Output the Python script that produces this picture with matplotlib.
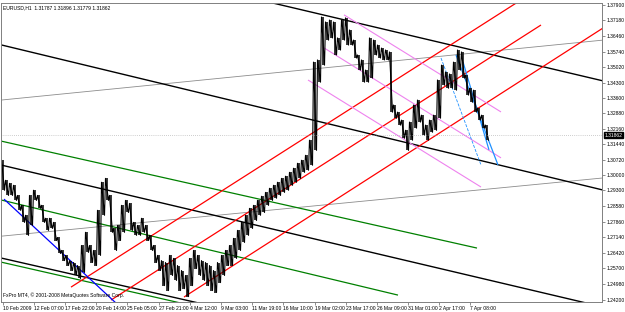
import numpy as np
import matplotlib.pyplot as plt

# EURUSD H1, high / low per 4-bar block (x = bar index)
highs = [1.3070, 1.2977, 1.2963, 1.2954, 1.2907, 1.2861, 1.2815, 1.2907, 1.2931, 1.2907,
         1.2861, 1.2801, 1.2801, 1.2782, 1.2712, 1.2652, 1.2629, 1.2605, 1.2596, 1.2582,
         1.2675, 1.2736, 1.2675, 1.2652, 1.2838, 1.2968, 1.2986, 1.2907, 1.2754, 1.2768,
         1.2861, 1.2884, 1.2870, 1.2782, 1.2768, 1.2801, 1.2768, 1.2722, 1.2675, 1.2629,
         1.2605, 1.2596, 1.2629, 1.2615, 1.2582, 1.2559, 1.2536, 1.2615, 1.2652, 1.2629,
         1.2605, 1.2596, 1.2582, 1.2559, 1.2596, 1.2629, 1.2652, 1.2675, 1.2708, 1.2745,
         1.2782, 1.2815, 1.2847, 1.2861, 1.2884, 1.2903, 1.2921, 1.2940, 1.2954, 1.2968,
         1.2986, 1.2996, 1.3014, 1.3033, 1.3056, 1.3070, 1.3093, 1.3163, 1.3525, 1.3535,
         1.3734, 1.3711, 1.3720, 1.3711, 1.3637, 1.3720, 1.3730, 1.3674, 1.3627, 1.3558,
         1.3535, 1.3488, 1.3637, 1.3627, 1.3604, 1.3590, 1.3581, 1.3572, 1.3326, 1.3293,
         1.3256, 1.3209, 1.3247, 1.3326, 1.3349, 1.3279, 1.3233, 1.3256, 1.3279, 1.3442,
         1.3511, 1.3479, 1.3470, 1.3525, 1.3581, 1.3572, 1.3465, 1.3404, 1.3395, 1.3312,
         1.3279, 1.3233]
lows = [1.2931, 1.2907, 1.2907, 1.2884, 1.2838, 1.2782, 1.2722, 1.2768, 1.2884, 1.2847,
        1.2782, 1.2745, 1.2754, 1.2698, 1.2638, 1.2605, 1.2582, 1.2559, 1.2540, 1.2522,
        1.2550, 1.2643, 1.2596, 1.2582, 1.2629, 1.2815, 1.2884, 1.2736, 1.2652, 1.2698,
        1.2736, 1.2828, 1.2745, 1.2722, 1.2722, 1.2736, 1.2698, 1.2652, 1.2596, 1.2559,
        1.2489, 1.2466, 1.2536, 1.2513, 1.2466, 1.2475, 1.2438, 1.2489, 1.2568, 1.2536,
        1.2513, 1.2489, 1.2466, 1.2457, 1.2503, 1.2536, 1.2582, 1.2582, 1.2615, 1.2652,
        1.2689, 1.2722, 1.2754, 1.2791, 1.2815, 1.2828, 1.2861, 1.2884, 1.2894, 1.2907,
        1.2921, 1.2931, 1.2954, 1.2968, 1.2986, 1.3014, 1.3024, 1.3047, 1.3116, 1.3432,
        1.3511, 1.3627, 1.3637, 1.3558, 1.3581, 1.3627, 1.3604, 1.3604, 1.3544, 1.3488,
        1.3432, 1.3432, 1.3451, 1.3558, 1.3544, 1.3535, 1.3535, 1.3293, 1.3265, 1.3233,
        1.3172, 1.3116, 1.3163, 1.3219, 1.3247, 1.3186, 1.3163, 1.3200, 1.3209, 1.3265,
        1.3418, 1.3404, 1.3404, 1.3395, 1.3488, 1.3451, 1.3372, 1.3339, 1.3293, 1.3256,
        1.3219, 1.3163]
last_price = 1.31862
header = "EURUSD,H1  1.31787 1.31896 1.31779 1.31862"
footer = "FxPro MT4, \u00a9 2001-2008 MetaQuotes Software Corp."

price_ticks = [1.37900, 1.37180, 1.36460, 1.35740, 1.35020, 1.34300, 1.33600, 1.32880,
               1.32160, 1.31440, 1.30720, 1.30000, 1.29300, 1.28580, 1.27860, 1.27140,
               1.26420, 1.25700, 1.24980, 1.24200]
time_pos = [2, 33, 64, 95, 126, 158, 189, 220, 251, 282, 314, 345, 376, 407, 438, 469]
time_labels = ["10 Feb 2009", "12 Feb 07:00", "17 Feb 22:00", "20 Feb 14:00", "25 Feb 05:00",
               "27 Feb 21:00", "4 Mar 12:00", "9 Mar 03:00", "11 Mar 19:00", "16 Mar 10:00",
               "19 Mar 02:00", "23 Mar 17:00", "26 Mar 09:00", "31 Mar 01:00", "2 Apr 17:00",
               "7 Apr 08:00"]

# trend lines: (bar0, price0, bar1, price1)
black_lines = [(0, 1.4096, 602, 1.3438), (0, 1.3605, 602, 1.2932),
               (0, 1.3048, 602, 1.2390), (0, 1.2617, 250, 1.2353)]
green_lines = [(0, 1.3159, 476, 1.2663), (0, 1.2886, 397, 1.2445), (0, 1.2598, 250, 1.2334)]
gray_lines = [(0, 1.3349, 602, 1.3627), (0, 1.2718, 602, 1.2988)]
red_lines = [(70, 1.2482, 520, 1.3813), (110, 1.2422, 540, 1.3697), (183, 1.2436, 602, 1.3683)]
pink_lines = [(343, 1.3744, 500, 1.3294), (323, 1.3591, 500, 1.3081), (307, 1.3442, 480, 1.2946)]
blue_lines = [(3, 1.2890, 115, 1.2408), (455, 1.3558, 497, 1.3048), (462, 1.3526, 488, 1.3118)]
dash_lines = [(440, 1.3544, 480, 1.3048)]

fig = plt.figure(figsize=(6.25, 3.12), dpi=100)
ax = fig.add_axes([1 / 625, 10 / 312, 601 / 625, 299 / 312])
font = dict(family="Liberation Sans", fontsize=3.6)

def draw(lines, color, lw, ls="-"):
    for x0, p0, x1, p1 in lines:
        ax.plot([x0, x1], [p0, p1], color=color, lw=lw, ls=ls, solid_capstyle="butt")

draw(gray_lines, "#8c8c8c", 0.6)
draw(green_lines, "#008000", 0.9)
draw(black_lines, "black", 1.0)
draw(red_lines, "#ff0000", 0.9)
draw(pink_lines, "#ee82ee", 0.8)
draw(blue_lines[:1], "#0000ff", 0.9)
draw(blue_lines[1:], "#1e90ff", 0.9)
draw(dash_lines, "#1e90ff", 0.6, "--")

# price bars
xs = np.arange(len(highs)) * 4 + 2
ax.vlines(xs, lows, highs, color="black", lw=1.1)
zig_x = np.repeat(xs, 2) + np.tile([-1.5, 1.5], len(xs))
zig_y = np.ravel(np.column_stack([highs, lows]))
ax.plot(zig_x, zig_y, color="black", lw=0.8)

ax.axhline(last_price, color="#a0a0a0", lw=0.5, ls=(0, (1, 2)))

ax.set_xlim(0, 601)
ax.set_ylim(1.2413, 1.3799)
ax.yaxis.tick_right()
ax.set_yticks(price_ticks)
ax.set_yticklabels(["%.5f" % v for v in price_ticks], **font)
ax.set_xticks(time_pos)
ax.set_xticklabels(time_labels, ha="left", **font)
ax.tick_params(axis="both", length=2, width=0.5, color="#606060", pad=1)
for s in ax.spines.values():
    s.set_color("#808080")
    s.set_linewidth(0.7)

ax.text(1.004, last_price, "%.5f" % last_price, transform=ax.get_yaxis_transform(),
        color="white", va="center", ha="left", **font,
        bbox=dict(facecolor="black", edgecolor="black", pad=0.4))
ax.text(0.004, 0.992, header, transform=ax.transAxes, va="top", ha="left", **font)
ax.text(0.004, 0.012, footer, transform=ax.transAxes, va="bottom", ha="left", **font)

fig.savefig("out.png", dpi=100)
